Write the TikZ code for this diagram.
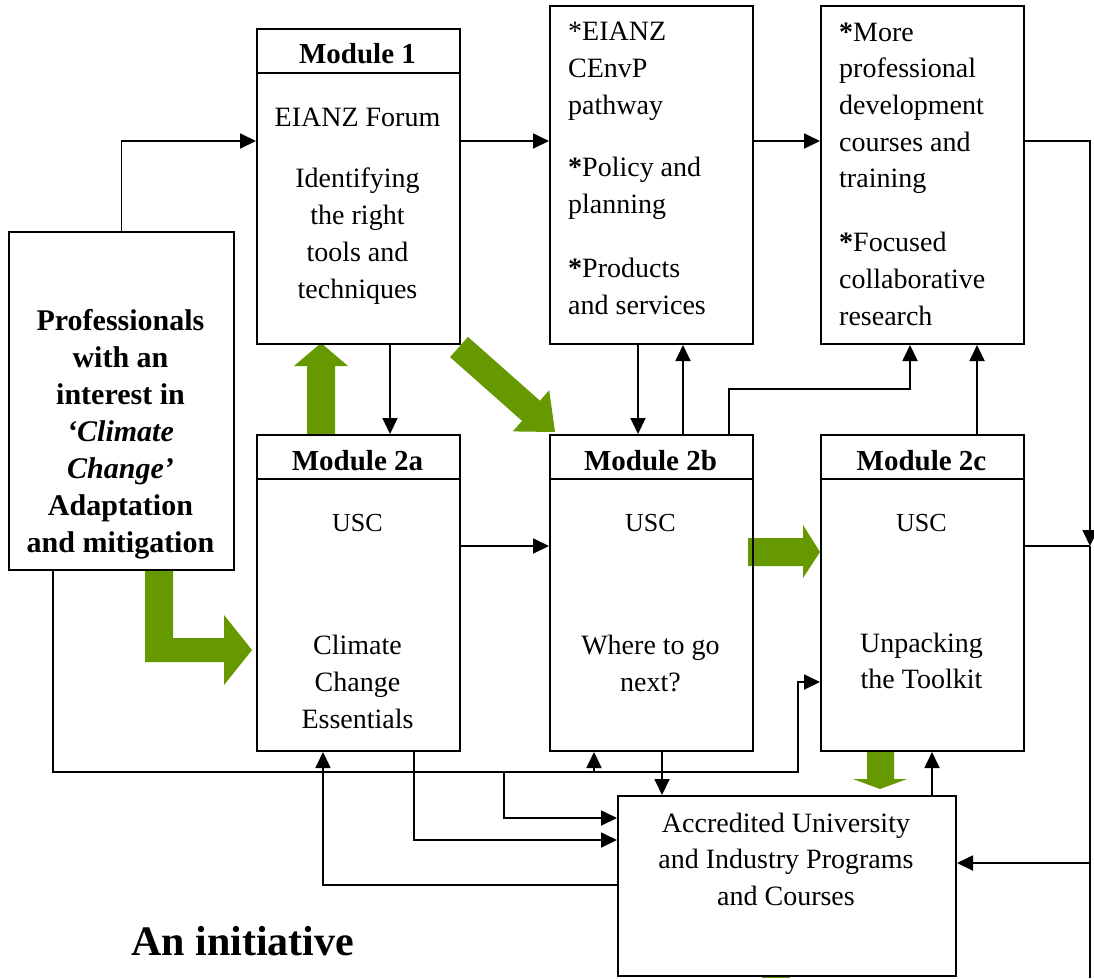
\documentclass[tikz,border=0pt]{standalone}
\usepackage{fontspec}
\setmainfont{Liberation Serif}
\usetikzlibrary{arrows.meta}
\definecolor{leaf}{RGB}{102,153,0}
\begin{document}
\begin{tikzpicture}[x=1pt,y=-1pt,
  box/.style={draw, line width=2pt, rectangle, inner sep=0pt, anchor=north west},
  wire/.style={line width=1.8pt},
  arr/.style={wire, -{Triangle[length=16pt,width=15pt]}},
  txt/.style={inner sep=0pt, font=\fontsize{28}{36.7}\selectfont},
  hd/.style={inner sep=0pt, anchor=base, font=\fontsize{29}{36.7}\selectfont\bfseries},
  bld/.style={inner sep=0pt, font=\fontsize{30}{37}\selectfont\bfseries},
  green/.style={fill=leaf}
]
\useasboundingbox (0,0) rectangle (1094,978);
\fill[white] (0,0) rectangle (1094,978);

% green block arrows
\fill[green] (307,434) -- (307,366) -- (294,366) -- (321,343) -- (348,366) -- (335,366) -- (335,434) -- cycle;
\fill[green] (450.05,357.1) -- (522.05,420.9) -- (512.8,431.4) -- (555,432) -- (549.2,390.2) -- (539.95,400.7) -- (467.95,336.9) -- cycle;
\fill[green] (145,569) -- (145,662) -- (224,662) -- (224,685) -- (252,650) -- (224,615) -- (224,638) -- (173,638) -- (173,569) -- cycle;
\fill[green] (748,538) -- (803,538) -- (803,525) -- (820,552) -- (803,578) -- (803,566) -- (748,566) -- cycle;
\fill[green] (867,750) -- (867,779) -- (853,779) -- (880,789) -- (907,779) -- (894,779) -- (894,750) -- cycle;
\fill[green] (762,976) rectangle (790,978);

% boxes
\node[box, minimum width=225pt, minimum height=338pt] (prof) at (8,231) {};
\node[box, minimum width=203pt, minimum height=315pt] (m1) at (256,28) {};
\node[box, minimum width=203pt, minimum height=338pt] (eianz) at (549,5) {};
\node[box, minimum width=203pt, minimum height=338pt] (more) at (820,5) {};
\node[box, minimum width=203pt, minimum height=316pt] (m2a) at (256,434) {};
\node[box, minimum width=203pt, minimum height=316pt] (m2b) at (549,434) {};
\node[box, minimum width=203pt, minimum height=316pt] (m2c) at (820,434) {};
\node[box, minimum width=338pt, minimum height=180pt] (acc) at (617,795) {};

% header dividers
\coordinate (h1) at (0,73);
\coordinate (h2) at (0,479);
\draw[line width=2pt] (m1.west |- h1) -- (m1.east |- h1);
\draw[line width=2pt] (m2a.west |- h2) -- (m2a.east |- h2);
\draw[line width=2pt] (m2b.west |- h2) -- (m2b.east |- h2);
\draw[line width=2pt] (m2c.west |- h2) -- (m2c.east |- h2);

% texts (multi-line nodes: base anchor = last line baseline)
\node[hd] (m1h) at (357.5,63) {Module 1};
\node[txt, anchor=base, align=center] (m1t) at (357.5,298) {EIANZ Forum\\[25pt]Identifying\\the right\\tools and\\techniques};
\node[txt, anchor=base west, align=left] (et) at (568,314) {*EIANZ\\CEnvP\\pathway\\[26pt]\textbf{*}Policy and\\planning\\[27pt]\textbf{*}Products\\and services};
\node[txt, anchor=base west, align=left] (mt) at (839,325) {\textbf{*}More\\professional\\development\\courses and\\training\\[27pt]\textbf{*}Focused\\collaborative\\research};
\node[bld, anchor=base, align=center] (pt) at (120.5,552) {Professionals\\with an\\interest in\\\textit{‘Climate}\\\textit{Change’}\\Adaptation\\and mitigation};

\node[hd] (m2ah) at (357.5,470) {Module 2a};
\node[hd] (m2bh) at (650.5,470) {Module 2b};
\node[hd] (m2ch) at (921.5,470) {Module 2c};
\node[txt, anchor=base, font=\fontsize{26}{30}\selectfont] (u1) at (357.5,531) {USC};
\node[txt, anchor=base, font=\fontsize{26}{30}\selectfont] (u2) at (650.5,531) {USC};
\node[txt, anchor=base, font=\fontsize{26}{30}\selectfont] (u3) at (921.5,531) {USC};
\node[txt, anchor=base, align=center] (m2at) at (357.5,728) {Climate\\Change\\Essentials};
\node[txt, anchor=base, align=center] (m2bt) at (650.5,691.5) {Where to go\\next?};
\node[txt, anchor=base, align=center, font=\fontsize{28}{36}\selectfont] (m2ct) at (921.5,688) {Unpacking\\the Toolkit};
\node[txt, anchor=base, align=center] (acct) at (786,905.5) {Accredited University\\and Industry Programs\\and Courses};
\node[inner sep=0pt, anchor=base west, font=\fontsize{42}{50}\selectfont\bfseries] (init) at (131,955) {An initiative};

% helper coordinates
\coordinate (yA) at (0,141);
\coordinate (yB) at (0,389);
\coordinate (yC) at (0,546);
\coordinate (yD) at (0,863);
\coordinate (yE) at (0,772);
\coordinate (yF) at (0,682);
\coordinate (yG) at (0,818);
\coordinate (yH) at (0,840);
\coordinate (yI) at (0,885);
\coordinate (xR) at (1090,0);
\coordinate (rb) at (1090,978);
\coordinate (x390) at (390,0);
\coordinate (x638) at (638,0);
\coordinate (x683) at (683,0);
\coordinate (x729) at (729,0);
\coordinate (x910) at (910,0);
\coordinate (x977) at (977,0);
\coordinate (x53) at (53,0);
\coordinate (x798) at (798,0);
\coordinate (x594) at (594,0);
\coordinate (x504) at (504,0);
\coordinate (x414) at (414,0);
\coordinate (x323) at (323,0);
\coordinate (x662) at (662,0);
\coordinate (x932) at (932,0);

% connectors
\draw[arr] (prof.north) |- (m1.west |- yA);
\draw[arr] (m1.east |- yA) -- (eianz.west |- yA);
\draw[arr] (eianz.east |- yA) -- (more.west |- yA);
\draw[arr] (more.east |- yA) -| (xR |- yC);
\draw[wire] (xR |- yC) -- (rb);
\draw[wire] (m2c.east |- yC) -- (xR |- yC);
\draw[arr] (xR |- yD) -- (acc.east |- yD);

\draw[arr] (m1.south -| x390) -- (m2a.north -| x390);
\draw[arr] (eianz.south -| x638) -- (m2b.north -| x638);
\draw[arr] (m2b.north -| x683) -- (eianz.south -| x683);
\draw[arr] (m2b.north -| x729) |- (x910 |- yB) -- (more.south -| x910);
\draw[arr] (m2c.north -| x977) -- (more.south -| x977);
\draw[arr] (m2a.east |- yC) -- (m2b.west |- yC);

\draw[arr] (prof.south -| x53) |- (x798 |- yE) |- (m2c.west |- yF);
\draw[arr] (x594 |- yE) -- (m2b.south -| x594);
\draw[arr] (x504 |- yE) |- (acc.west |- yG);
\draw[arr] (m2a.south -| x414) |- (acc.west |- yH);
\draw[arr] (acc.west |- yI) -| (m2a.south -| x323);
\draw[arr] (m2b.south -| x662) -- (acc.north -| x662);
\draw[arr] (acc.north -| x932) -- (m2c.south -| x932);
\end{tikzpicture}
\end{document}
